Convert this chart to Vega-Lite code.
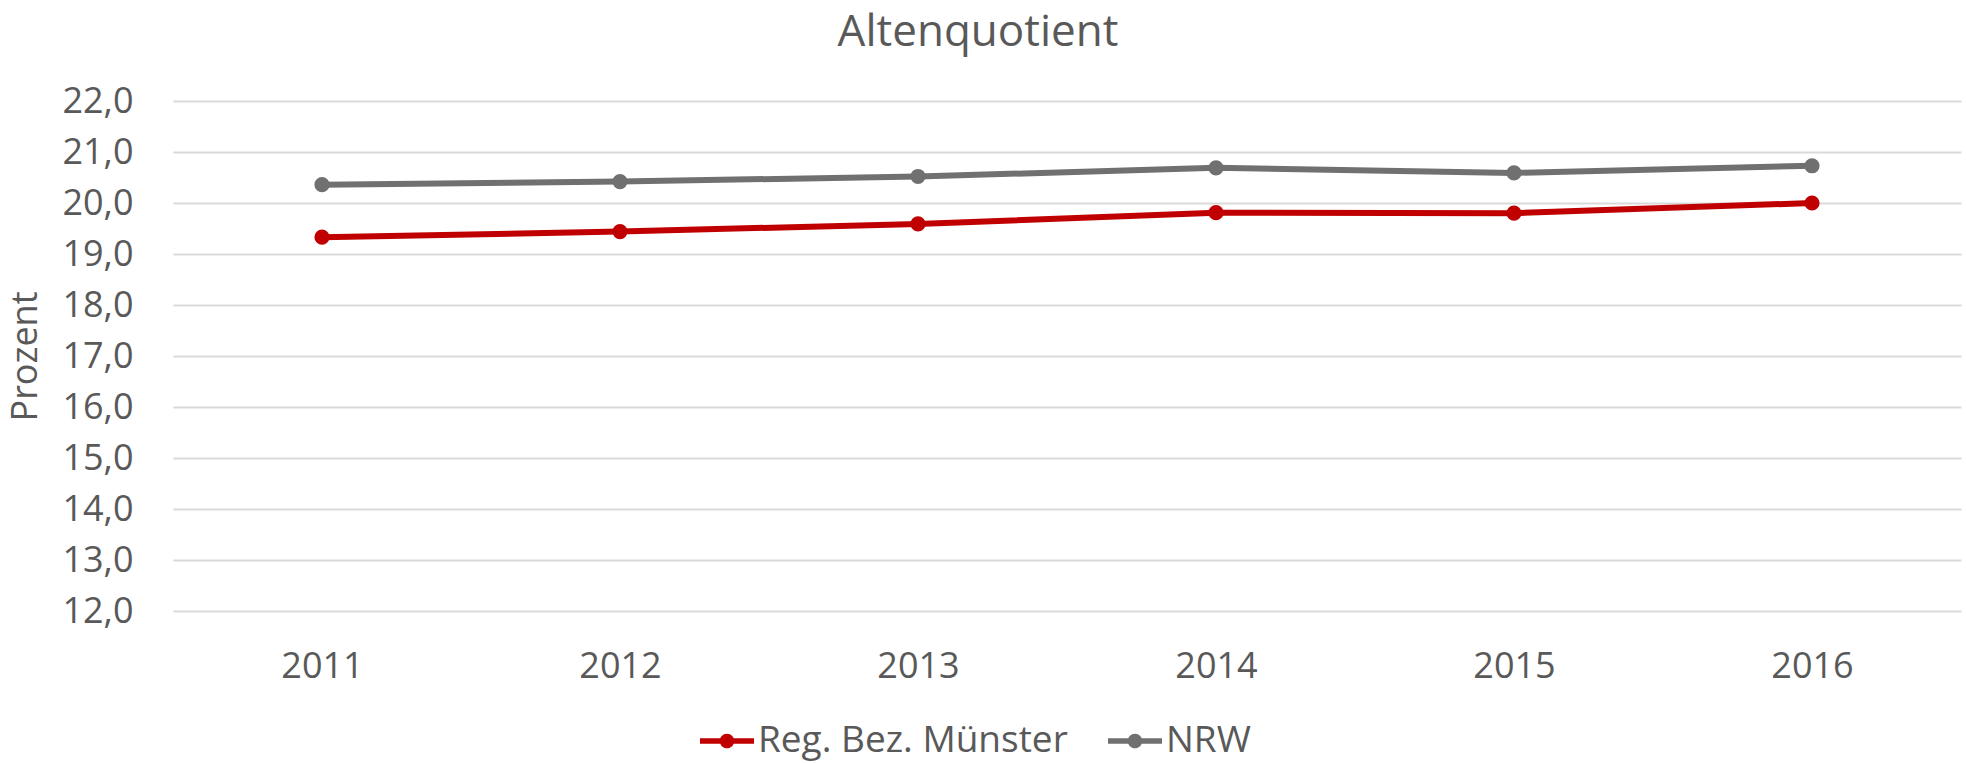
{
  "$schema": "https://vega.github.io/schema/vega-lite/v6.json",
  "autosize": "none",
  "width": 1788,
  "height": 510,
  "padding": {"left": 173, "top": 101, "right": 5, "bottom": 152},
  "background": "white",
  "config": {"view": {"stroke": null}},
  "title": {
    "text": "Altenquotient",
    "font": "Open Sans",
    "fontSize": 44,
    "fontWeight": "normal",
    "color": "#595959",
    "anchor": "middle",
    "dx": -89,
    "offset": 28
  },
  "data": {
    "values": [
      {"Jahr": "2011", "Reihe": "Reg. Bez. Münster", "Wert": 19.33},
      {"Jahr": "2012", "Reihe": "Reg. Bez. Münster", "Wert": 19.44},
      {"Jahr": "2013", "Reihe": "Reg. Bez. Münster", "Wert": 19.59},
      {"Jahr": "2014", "Reihe": "Reg. Bez. Münster", "Wert": 19.81},
      {"Jahr": "2015", "Reihe": "Reg. Bez. Münster", "Wert": 19.80},
      {"Jahr": "2016", "Reihe": "Reg. Bez. Münster", "Wert": 20.00},
      {"Jahr": "2011", "Reihe": "NRW", "Wert": 20.36},
      {"Jahr": "2012", "Reihe": "NRW", "Wert": 20.42},
      {"Jahr": "2013", "Reihe": "NRW", "Wert": 20.52},
      {"Jahr": "2014", "Reihe": "NRW", "Wert": 20.69},
      {"Jahr": "2015", "Reihe": "NRW", "Wert": 20.59},
      {"Jahr": "2016", "Reihe": "NRW", "Wert": 20.73}
    ]
  },
  "encoding": {
    "x": {
      "field": "Jahr",
      "type": "ordinal",
      "scale": {"type": "point", "padding": 0.5},
      "axis": {
        "title": null,
        "labelAngle": 0,
        "labelFont": "Open Sans",
        "labelFontSize": 36,
        "labelColor": "#595959",
        "labelPadding": 38,
        "domain": false,
        "ticks": false,
        "grid": false
      }
    },
    "y": {
      "field": "Wert",
      "type": "quantitative",
      "scale": {"domain": [12, 22], "nice": false, "zero": false},
      "axis": {
        "title": "Prozent",
        "titleFont": "Open Sans",
        "titleFontSize": 36,
        "titleFontWeight": "normal",
        "titleColor": "#595959",
        "titleX": -148,
        "titleY": 255,
        "titleAngle": -90,
        "titleAlign": "center",
        "titleBaseline": "middle",
        "values": [12, 13, 14, 15, 16, 17, 18, 19, 20, 21, 22],
        "labelExpr": "replace(format(datum.value, '.1f'), '.', ',')",
        "labelFont": "Open Sans",
        "labelFontSize": 36,
        "labelColor": "#595959",
        "labelPadding": 40,
        "domain": false,
        "ticks": false,
        "grid": true,
        "gridColor": "#D9D9D9",
        "gridWidth": 1.8
      }
    },
    "color": {
      "field": "Reihe",
      "type": "nominal",
      "scale": {"domain": ["Reg. Bez. Münster", "NRW"], "range": ["#C00000", "#707070"]},
      "legend": {
        "title": null,
        "orient": "none",
        "direction": "horizontal",
        "legendX": 527,
        "legendY": 613,
        "symbolType": "M-1,-0.1L1,-0.1L1,0.1L-1,0.1Z M0.27,0 A0.27,0.27 0 1,1 -0.27,0 A0.27,0.27 0 1,1 0.27,0 Z",
        "symbolSize": 2916,
        "symbolStrokeWidth": 0,
        "symbolOpacity": 1,
        "labelFont": "Open Sans",
        "labelFontSize": 37,
        "labelColor": "#595959",
        "labelLimit": 0,
        "labelOffset": 4,
        "columnPadding": 40
      }
    }
  },
  "layer": [
    {
      "mark": {"type": "line", "strokeWidth": 6}
    },
    {
      "mark": {"type": "point", "filled": true, "size": 230, "opacity": 1}
    }
  ]
}
